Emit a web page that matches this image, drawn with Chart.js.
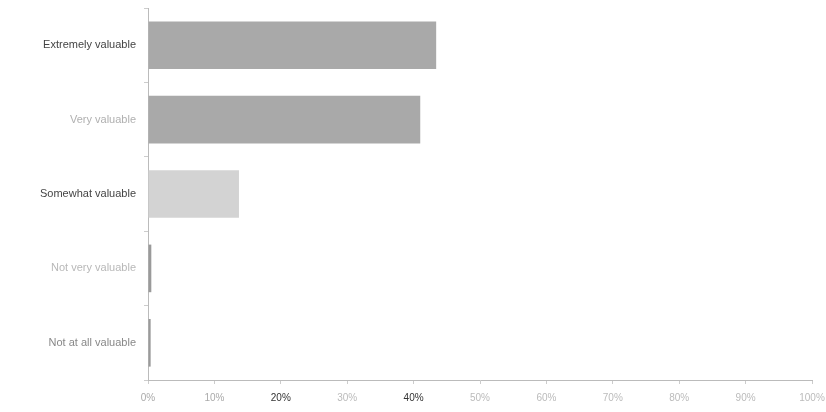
<!DOCTYPE html>
<html><head><meta charset="utf-8">
<script src="https://cdn.jsdelivr.net/npm/chart.js@4"></script>
<style>html,body{margin:0;padding:0;background:#fff}#wrap{width:826px;height:412px}</style>
</head><body><div id="wrap"><canvas id="c"></canvas></div>
<script>
const categories = ["Extremely valuable","Very valuable","Somewhat valuable","Not very valuable","Not at all valuable"];
const values = [43.4, 41.0, 13.7, 0.5, 0.4];
const barColors = ["#a9a9a9","#a9a9a9","#d3d3d3","#9a9a9a","#9a9a9a"];
const labelColors = ["#444","#b0b0b0","#444","#b8b8b8","#888"];
const xTicks = ["0%","10%","20%","30%","40%","50%","60%","70%","80%","90%","100%"];
const xTickColors = ["#aaa","#aaa","#333","#bbb","#333","#bbb","#bbb","#bbb","#bbb","#bbb","#bbb"];

new Chart(document.getElementById('c'), {
  type: 'bar',
  data: { labels: categories, datasets: [{ data: values, backgroundColor: barColors, borderWidth: 0, categoryPercentage: 1, barPercentage: 0.64 }] },
  options: {
    indexAxis: 'y', responsive: true, maintainAspectRatio: false, animation: false,
    layout: { padding: { top: 8, right: 0, left: 0, bottom: 0 } },
    plugins: { legend: { display: false }, tooltip: { enabled: false } },
    scales: {
      x: { min: 0, max: 100,
        ticks: { stepSize: 10, padding: 8, font: { family: 'Liberation Sans', size: 10 }, color: (ctx) => xTickColors[ctx.index],
          callback: (v, i) => xTicks[i] },
        grid: { display: true, drawOnChartArea: false, tickLength: 4, color: '#ccc' },
        border: { color: '#bbb' },
        afterFit: (s) => { s.paddingRight = 14; s.paddingLeft = 0; } },
      y: {
        ticks: { padding: 8, font: { family: 'Liberation Sans', size: 11 }, color: (ctx) => labelColors[ctx.index] },
        grid: { display: true, drawOnChartArea: false, offset: true, tickLength: 4, color: '#ccc' },
        border: { color: '#bbb' },
        afterFit: (s) => { s.width = 148; s.paddingTop = 0; s.paddingBottom = 0; } }
    }
  }
});
</script></body></html>
